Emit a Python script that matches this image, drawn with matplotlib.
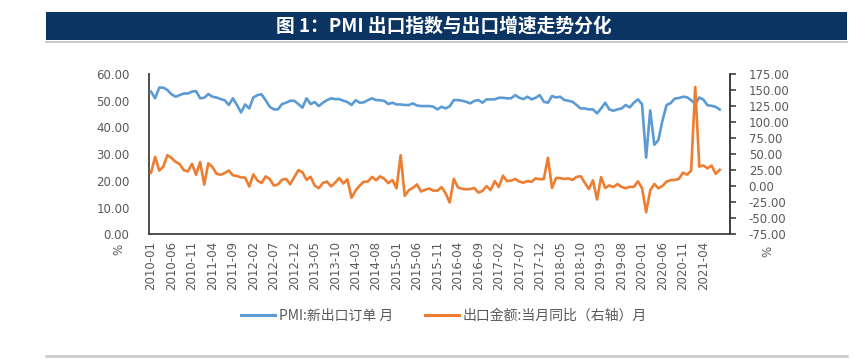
import matplotlib
matplotlib.use("Agg")
import matplotlib.pyplot as plt
from matplotlib.lines import Line2D
from matplotlib.patches import Rectangle

plt.rcParams['font.family'] = ['DejaVu Sans', 'Noto Sans CJK SC']

# ---------------- data ----------------
years = list(range(2010, 2022))
months = [f"{y}-{m:02d}" for y in years for m in range(1, 13)][:142]  # 2010-01 .. 2021-10 axis slots

pmi_new_export = [
    53.4, 50.9, 54.9, 54.9, 54.0, 52.4, 51.5, 52.1, 52.7, 52.7, 53.4, 53.6,
    50.9, 51.1, 52.5, 51.5, 51.2, 50.6, 50.2, 48.4, 50.9, 48.4, 45.6, 48.6,
    47.1, 51.2, 52.1, 52.4, 50.2, 47.75, 46.75, 46.75, 48.75, 49.25, 50.0, 50.0,
    48.75, 47.4, 50.9, 48.75, 49.5, 48.0, 49.25, 50.2, 50.9, 50.6, 50.6, 50.0,
    49.5, 48.4, 50.2, 49.25, 49.4, 50.2, 50.9, 50.2, 50.2, 49.9, 48.75, 49.25,
    48.6, 48.6, 48.4, 48.4, 49.0, 48.2, 48.0, 48.0, 48.0, 47.75, 46.75, 47.75,
    47.1, 47.9, 50.25, 50.25, 50.0, 49.6, 49.0, 49.9, 50.25, 49.25, 50.5, 50.5,
    50.5, 51.1, 51.1, 50.9, 50.9, 52.1, 51.1, 50.6, 51.5, 50.5, 51.1, 52.1,
    49.6, 49.25, 51.75, 51.2, 51.5, 50.25, 50.0, 49.6, 48.4, 47.1, 47.1, 46.75,
    46.75, 45.25, 47.1, 49.25, 46.75, 46.25, 46.75, 47.1, 48.4, 47.5, 49.25, 50.5,
    48.7, 28.7, 46.4, 33.5, 35.3, 42.6, 48.4, 49.1, 50.8, 51.0, 51.5, 51.3,
    50.2, 48.8, 51.2, 50.4, 48.3, 48.1, 47.7, 46.7,
]

export_yoy = [
    21.0, 45.7, 24.3, 30.5, 48.5, 43.9, 38.1, 34.4, 25.1, 22.9, 34.9, 17.9,
    37.7, 2.4, 35.8, 29.9, 19.4, 17.9, 20.4, 24.5, 17.1, 15.9, 13.8, 13.4,
    -0.5, 18.4, 8.9, 4.9, 15.3, 11.3, 1.0, 2.7, 9.9, 11.6, 2.9, 14.1,
    25.0, 21.8, 10.0, 14.7, 1.0, -3.1, 5.1, 7.2, -0.3, 5.6, 12.7, 4.3,
    10.6, -18.1, -6.6, 0.9, 7.0, 7.2, 14.5, 9.4, 15.3, 11.6, 4.7, 9.7,
    -3.3, 48.3, -15.0, -6.4, -2.5, 2.8, -8.3, -5.5, -3.7, -6.9, -6.8, -1.4,
    -11.2, -25.4, 11.5, -1.8, -4.1, -4.8, -4.4, -2.8, -10.0, -7.3, 0.1, -6.1,
    7.9, -1.3, 16.4, 8.0, 8.7, 11.3, 7.2, 5.5, 8.1, 6.9, 12.3, 10.9,
    11.1, 44.5, -2.7, 12.9, 12.6, 11.3, 12.2, 9.8, 14.5, 15.6, 5.4, -4.4,
    9.1, -20.7, 14.2, -2.7, 1.1, -1.3, 3.3, -1.0, -3.2, -0.9, -1.1, 7.6,
    -3.0, -40.6, -6.6, 3.5, -3.3, 0.5, 7.2, 9.5, 9.9, 11.4, 21.1, 18.1,
    24.0, 154.9, 30.6, 32.3, 27.9, 32.2, 19.3, 25.6,
]

left_ticks = [0, 10, 20, 30, 40, 50, 60]
right_ticks = [-75, -50, -25, 0, 25, 50, 75, 100, 125, 150, 175]
label_step = 5
last_label = "2021-04"

title = "图 1：PMI 出口指数与出口增速走势分化"
name_pmi = "PMI:新出口订单 月"
name_exp = "出口金额:当月同比（右轴）月"

# ---------------- style ----------------
BLUE = "#5B9BD5"
ORANGE = "#ED7D31"
TXT = "#595959"
SPINE = "#404040"
CJK = ['Noto Sans CJK SC', 'DejaVu Sans']

W, H = 854, 359
fig = plt.figure(figsize=(W / 100, H / 100), dpi=100)

def fx(px):
    return px / W

def fy(py):
    return 1 - py / H

# title banner
fig.patches.append(Rectangle((fx(46), fy(40)), fx(847) - fx(46), fy(12) - fy(40),
                             transform=fig.transFigure, facecolor="#0B3463",
                             edgecolor="none", zorder=0))
fig.lines.append(Line2D([fx(46), fx(847)], [fy(41.5), fy(41.5)], transform=fig.transFigure,
                        color="#BFBFBF", lw=1.2))
fig.text(fx(444), fy(26.5), title, color="white", fontsize=13.5, fontweight="bold",
         ha="center", va="center", family=CJK)

# bottom rule
fig.lines.append(Line2D([fx(46), fx(847)], [fy(355.5), fy(355.5)], transform=fig.transFigure,
                        color="#C8C8C8", lw=1.8))

ax = fig.add_axes([fx(149), fy(234.3), fx(730) - fx(149), fy(74) - fy(234.3)])
ax2 = ax.twinx()

x = list(range(len(pmi_new_export)))
ax.plot(x, pmi_new_export, color=BLUE, lw=1.9, solid_joinstyle="round", zorder=3)
ax2.plot(list(range(len(export_yoy))), export_yoy, color=ORANGE, lw=1.9,
         solid_joinstyle="round", zorder=3)

ax.set_xlim(-0.5, len(months) - 0.5)
ax.set_ylim(left_ticks[0], left_ticks[-1])
ax2.set_ylim(right_ticks[0], right_ticks[-1])

ax.set_yticks(left_ticks)
ax.set_yticklabels([f"{v:.2f}" for v in left_ticks])
ax2.set_yticks(right_ticks)
ax2.set_yticklabels([f"{v:.2f}" for v in right_ticks])

idx = [i for i in range(0, months.index(last_label) + 1, label_step)]
ax.set_xticks(idx)
ax.set_xticklabels([months[i] for i in idx], rotation=90)

for a in (ax, ax2):
    a.spines["top"].set_visible(False)
    for s in a.spines.values():
        s.set_color(SPINE)
        s.set_linewidth(1.3)
    a.set_facecolor("none")

ax.tick_params(axis="y", length=0, pad=14, labelsize=8.5, labelcolor=TXT)
ax.tick_params(axis="x", length=0, pad=5, labelsize=8.5, labelcolor=TXT)
ax2.tick_params(axis="y", length=4.5, width=1.2, color=SPINE, pad=9, labelsize=8.5, labelcolor=TXT)
ax2.spines["left"].set_visible(False)
ax2.spines["bottom"].set_visible(False)

fig.text(fx(119), fy(249), "%", rotation=90, color=TXT, fontsize=8.5, ha="center", va="center")
fig.text(fx(768), fy(251), "%", rotation=90, color=TXT, fontsize=8.5, ha="center", va="center")

# legend
h1 = Line2D([], [], color=BLUE, lw=2.2)
h2 = Line2D([], [], color=ORANGE, lw=2.2)
leg = fig.legend([h1, h2], [name_pmi, name_exp], loc="center", ncol=2,
                 bbox_to_anchor=(fx(444), fy(316)), frameon=False,
                 handlelength=2.45, handletextpad=0.25, columnspacing=2.3,
                 prop={"family": CJK, "size": 10})
for t in leg.get_texts():
    t.set_color(TXT)

fig.savefig("out.png", dpi=100, facecolor="white")
